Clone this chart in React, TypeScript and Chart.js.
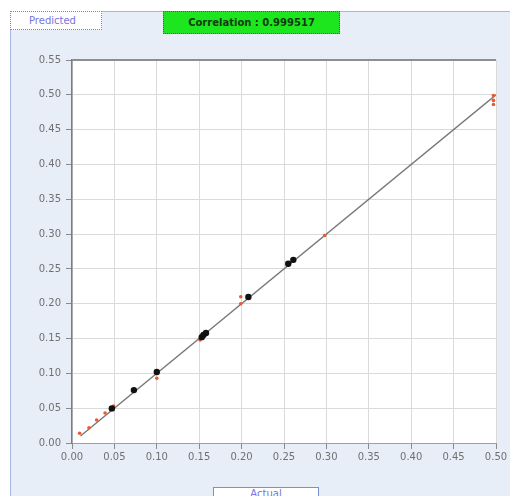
import React, { useEffect, useRef } from "react";
import { Chart, registerables } from "chart.js";

Chart.register(...registerables);

// Black markers (main samples)
const actualBlack = [0.047, 0.073, 0.100, 0.153, 0.155, 0.158, 0.208, 0.255, 0.261];
const predictedBlack = [0.0497, 0.076, 0.102, 0.152, 0.155, 0.158, 0.2096, 0.2575, 0.263];

// Red markers (secondary samples)
const actualRed = [0.009, 0.020, 0.029, 0.039, 0.049, 0.100, 0.151, 0.152, 0.199, 0.199, 0.298, 0.497, 0.497, 0.497];
const predictedRed = [0.014, 0.022, 0.033, 0.043, 0.053, 0.093, 0.148, 0.153, 0.210, 0.200, 0.298, 0.499, 0.492, 0.486];

// Ideal fit line endpoints
const fitX = [0.01, 0.5];
const fitY = [0.01, 0.5];

const xTickMin = 0;
const xTickMax = 0.5;
const yTickMin = 0;
const yTickMax = 0.55;
const tickStep = 0.05;

const correlationLabel = "Correlation : 0.999517";
const yTitle = "Predicted";
const xTitle = "Actual";

const toPts = (xs: number[], ys: number[]) => xs.map((x, i) => ({ x, y: ys[i] }));

const panelPlugin = {
  id: "panelBg",
  beforeDraw(chart: any) {
    const { ctx, chartArea } = chart;
    ctx.save();
    ctx.fillStyle = "#ffffff";
    ctx.fillRect(0, 0, chart.width, chart.height);
    ctx.fillStyle = "#e8eef7";
    ctx.fillRect(10, 11, chart.width - 10, chart.height - 11);
    ctx.strokeStyle = "#a8b8dc";
    ctx.lineWidth = 1;
    ctx.beginPath();
    ctx.moveTo(10.5, chart.height);
    ctx.lineTo(10.5, 11.5);
    ctx.lineTo(chart.width, 11.5);
    ctx.stroke();
    ctx.fillStyle = "#ffffff";
    ctx.fillRect(chartArea.left, chartArea.top, chartArea.right - chartArea.left, chartArea.bottom - chartArea.top);
    ctx.restore();
  },
  afterDatasetsDraw(chart: any) {
    const { ctx, chartArea } = chart;
    ctx.save();
    ctx.strokeStyle = "#8e8e8e";
    ctx.lineWidth = 2;
    ctx.beginPath();
    ctx.moveTo(chartArea.left, chartArea.top);
    ctx.lineTo(chartArea.right, chartArea.top);
    ctx.stroke();
    ctx.restore();
  },
};

export default function App() {
  const ref = useRef<HTMLCanvasElement | null>(null);

  useEffect(() => {
    if (!ref.current) return;
    const tickFont = { family: "'DejaVu Sans', sans-serif", size: 10 };
    const chart = new Chart(ref.current, {
      type: "scatter",
      data: {
        datasets: [
          {
            type: "line",
            label: "fit",
            data: toPts(fitX, fitY),
            borderColor: "rgba(95,95,95,0.85)",
            borderWidth: 1.4,
            pointRadius: 0,
            fill: false,
            order: 3,
          } as any,
          {
            label: "red",
            data: toPts(actualRed, predictedRed),
            backgroundColor: "#ee5a30",
            borderColor: "#ee5a30",
            pointRadius: 1.8,
            borderWidth: 0,
            order: 2,
          },
          {
            label: "black",
            data: toPts(actualBlack, predictedBlack),
            backgroundColor: "#111111",
            borderColor: "#111111",
            pointRadius: 3.2,
            borderWidth: 0,
            order: 1,
          },
        ],
      },
      options: {
        responsive: false,
        animation: false,
        events: [],
        layout: { padding: { left: 0, top: 60, right: 14, bottom: 28 } },
        plugins: { legend: { display: false }, tooltip: { enabled: false } },
        scales: {
          x: {
            type: "linear",
            min: xTickMin,
            max: xTickMax,
            afterFit: (s: any) => {
              s.height = 25;
            },
            ticks: {
              stepSize: tickStep,
              color: "#707070",
              font: tickFont,
              padding: 2,
              maxRotation: 0,
              autoSkip: false,
              callback: (v: any) => Number(v).toFixed(2),
            },
            grid: { color: "#dadada", tickColor: "#8a8a8a", tickLength: 6, lineWidth: 1 },
            border: { color: "#a0a0a0", width: 1 },
          },
          y: {
            type: "linear",
            min: yTickMin,
            max: yTickMax,
            afterFit: (s: any) => {
              s.width = 72;
            },
            ticks: {
              stepSize: tickStep,
              color: "#707070",
              font: tickFont,
              padding: 5,
              autoSkip: false,
              callback: (v: any) => Number(v).toFixed(2),
            },
            grid: { color: "#dadada", tickColor: "#8a8a8a", tickLength: 6, lineWidth: 1 },
            border: { color: "#7c7c7c", width: 1.5 },
          },
        },
      },
      plugins: [panelPlugin],
    } as any);
    return () => chart.destroy();
  }, []);

  const boxBase: React.CSSProperties = {
    position: "absolute",
    boxSizing: "border-box",
    fontFamily: "'DejaVu Sans', sans-serif",
    fontSize: 10,
    display: "flex",
    alignItems: "center",
    justifyContent: "center",
    whiteSpace: "nowrap",
  };

  return (
    <div style={{ position: "fixed", left: 0, top: 0, width: 510, height: 496, overflow: "hidden", background: "#fff" }}>
      <canvas ref={ref} width={510} height={496} style={{ display: "block", width: 510, height: 496 }} />
      <div
        style={{
          ...boxBase,
          left: 10,
          top: 11,
          width: 92,
          height: 19,
          background: "#ffffff",
          border: "1px dotted #6f86d6",
          color: "#7474dc",
          justifyContent: "flex-start",
          paddingLeft: 18,
        }}
      >
        {yTitle}
      </div>
      <div
        style={{
          ...boxBase,
          left: 163,
          top: 11,
          width: 177,
          height: 23,
          background: "#1ee61e",
          border: "1px dotted #2a7a2a",
          color: "#103a10",
          fontWeight: "bold",
        }}
      >
        {correlationLabel}
      </div>
      <div
        style={{
          ...boxBase,
          left: 213,
          top: 487,
          width: 106,
          height: 16,
          background: "#ffffff",
          border: "1px solid #7890dc",
          color: "#7474dc",
          alignItems: "flex-start",
          paddingTop: 0,
        }}
      >
        {xTitle}
      </div>
    </div>
  );
}
